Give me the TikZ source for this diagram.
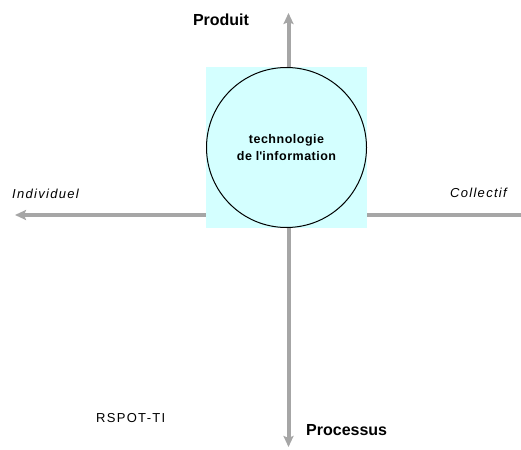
\documentclass[tikz,border=0pt]{standalone}
\usepackage{fontspec}
\setmainfont{Liberation Sans}
\usepackage{tikz}
\usetikzlibrary{arrows.meta,positioning,calc}
\definecolor{axisgray}{RGB}{166,166,166}
\definecolor{ticyan}{RGB}{212,255,255}
\begin{document}
\begin{tikzpicture}[
  x=1pt, y=1pt,
  axis/.style={draw=axisgray, line width=4pt},
  axistip/.style={axis, -{Stealth[length=11pt,width=10pt,inset=2pt]}},
  pole/.style={inner sep=0pt, font=\fontsize{16}{18}\selectfont\bfseries},
  side/.style={inner sep=0pt, font=\fontsize{13}{15}\selectfont\itshape\addfontfeatures{LetterSpace=10}},
  every node/.style={font=\sffamily}
]
\useasboundingbox (0,0) rectangle (521,-449);
% axes ends
\coordinate (top) at (288.5,-13);
\coordinate (bot) at (288.5,-447);
\coordinate (left) at (15,-215);
\coordinate (right) at (521,-215);
\node[fill=ticyan, minimum size=161pt, inner sep=0pt] (tisq) at (286.5,-147.5) {};
\node[draw, line width=1pt, circle, minimum size=160pt, inner sep=0pt, align=center,
  font=\fontsize{12.5}{17}\selectfont\bfseries\addfontfeatures{LetterSpace=4}] (ti) at (tisq.center)
  {technologie\\de l\textquotesingle information};
\draw[axistip] (top |- tisq.north) -- (top);
\draw[axistip] (bot |- tisq.south) -- (bot);
\draw[axistip] (left -| tisq.west) -- (left);
\draw[axis] (right -| tisq.east) -- (right);
% labels
\node[pole, anchor=base] (produit) at (221,-26) {Produit};
\node[pole, anchor=base west] (processus) at (306,-435) {Processus};
\node[side, anchor=base west] (indiv) at (12,-198) {Individuel};
\node[side, anchor=base east] (coll) at (507,-197) {Collectif};
\node[inner sep=0pt, anchor=base west, font=\fontsize{13}{15}\selectfont\addfontfeatures{LetterSpace=10}] (rspot) at (96,-422) {RSPOT-TI};
\end{tikzpicture}
\end{document}
